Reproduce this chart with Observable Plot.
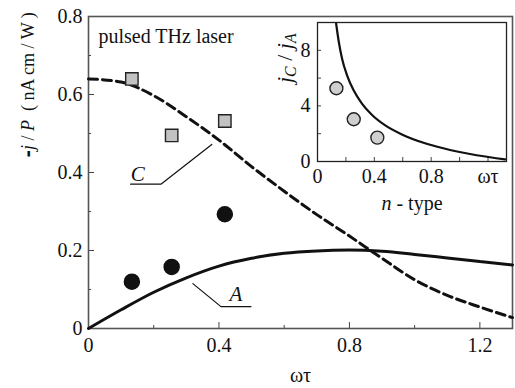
<!DOCTYPE html>
<html><head><meta charset="utf-8">
<script src="https://cdn.jsdelivr.net/npm/d3@7"></script>
<script src="https://cdn.jsdelivr.net/npm/@observablehq/plot@0.6"></script>
<style>
body{margin:0;background:#fff;font-family:'Liberation Serif';}
#wrap{position:relative;width:515px;height:388px;overflow:hidden;}
#wrap svg{position:absolute;}
</style></head><body><div id="wrap"></div>
<script>
// ---- main chart data ----
const curveX = [0, 0.1, 0.2, 0.3, 0.4, 0.5, 0.6, 0.7, 0.8, 0.9, 1.0, 1.1, 1.2, 1.3];
const curveA = [0, 0.048, 0.093, 0.13, 0.16, 0.18, 0.193, 0.199, 0.201, 0.198, 0.19, 0.181, 0.172, 0.163];
const curveC = [0.64, 0.632, 0.597, 0.543, 0.483, 0.415, 0.352, 0.292, 0.237, 0.18, 0.125, 0.085, 0.055, 0.028];
const pointX = [0.133, 0.255, 0.418];
const squaresC = [0.64, 0.495, 0.532];
const circlesA = [0.12, 0.158, 0.293];
const xMajor = [0, 0.4, 0.8, 1.2];
const xMinor = [0.2, 0.6, 1.0];
const yMajor = [0, 0.2, 0.4, 0.6, 0.8];
const yMinor = [0.1, 0.3, 0.5, 0.7];
// ---- inset data ----
const insetX = [0.131, 0.15, 0.173, 0.208, 0.255, 0.314, 0.384, 0.477, 0.594, 0.746, 0.885, 1.0, 1.12, 1.32];
const insetY = [9.93, 8.6, 7.4, 6.2, 5.1, 4.15, 3.35, 2.6, 1.95, 1.35, 0.95, 0.68, 0.45, 0.15];
const insetPointX = [0.133, 0.255, 0.421];
const insetPointY = [5.27, 3.04, 1.72];
const insetXMajor = [0, 0.4, 0.8, 1.2];
const insetXMinor = [0.2, 0.6, 1.0];
const insetYMajor = [0, 4, 8];
const insetYMinor = [2, 6];

const SERIF = "Liberation Serif";
const lineA = curveX.map((x, i) => ({x, y: curveA[i]}));
const lineC = curveX.map((x, i) => ({x, y: curveC[i]}));
const sq = pointX.map((x, i) => ({x, y: squaresC[i]}));
const ci = pointX.map((x, i) => ({x, y: circlesA[i]}));
const leaderC = [{x: 0.129, y: 0.37}, {x: 0.222, y: 0.37}, {x: 0.378, y: 0.472}];
const leaderA = [{x: 0.32, y: 0.115}, {x: 0.406, y: 0.056}, {x: 0.498, y: 0.056}];

const main = Plot.plot({
  width: 515, height: 388,
  marginLeft: 88, marginRight: 3, marginTop: 16, marginBottom: 60,
  x: {domain: [0, 1.3]},
  y: {domain: [0, 0.8]},
  style: {fontSize: "20px", color: "#111", background: "white"},
  marks: [
    Plot.axisX(xMajor, {tickSize: -6, tickPadding: 15, tickFormat: d => String(d), label: null, stroke: "#444"}),
    Plot.axisX(xMinor, {tickSize: -3, tickPadding: 15, tickFormat: () => "", label: null, stroke: "#444"}),
    Plot.axisY(yMajor, {tickSize: -6, tickPadding: 12, tickFormat: d => String(d), label: null, stroke: "#444"}),
    Plot.axisY(yMinor, {tickSize: -3, tickPadding: 12, tickFormat: () => "", label: null, stroke: "#444"}),
    Plot.frame({stroke: "#555", strokeWidth: 1.6}),
    Plot.line(lineC, {x: "x", y: "y", curve: "monotone-x", stroke: "#111", strokeWidth: 3, strokeDasharray: "9,5"}),
    Plot.line(lineA, {x: "x", y: "y", curve: "monotone-x", stroke: "#111", strokeWidth: 3}),
    Plot.line(leaderC, {x: "x", y: "y", stroke: "#111", strokeWidth: 1.2}),
    Plot.line(leaderA, {x: "x", y: "y", stroke: "#111", strokeWidth: 1.2}),
    Plot.dot(sq, {x: "x", y: "y", symbol: "square", r: 7, fill: "#c2c2c2", stroke: "#222", strokeWidth: 1.4}),
    Plot.dot(ci, {x: "x", y: "y", r: 7.5, fill: "#111", stroke: "#111"}),
    Plot.text([{x: 0.151, y: 0.395, t: "C"}], {x: "x", y: "y", text: "t", fontStyle: "italic", fontSize: 21}),
    Plot.text([{x: 0.452, y: 0.087, t: "A"}], {x: "x", y: "y", text: "t", fontStyle: "italic", fontSize: 21}),
    Plot.text(["pulsed THz laser"], {frameAnchor: "top-left", dx: 10, dy: 12, textAnchor: "start", lineAnchor: "top", fontSize: 20}),
    Plot.text(["ωτ"], {frameAnchor: "bottom", dy: 47, lineAnchor: "middle", fontSize: 20}),
    Plot.text(["YLABEL"], {frameAnchor: "left", dx: -60, dy: -15, rotate: -90, lineAnchor: "middle", fontSize: 18})
  ]
});

const inset = Plot.plot({
  width: 250, height: 200,
  marginLeft: 55, marginRight: 6, marginTop: 7, marginBottom: 54,
  x: {domain: [0, 1.33]},
  y: {domain: [0, 10]},
  style: {fontSize: "20px", color: "#111", background: "transparent", overflow: "visible"},
  marks: [
    Plot.axisX(insetXMajor, {tickSize: -4, tickPadding: 11, tickFormat: d => d === 1.2 ? "ωτ" : String(d), label: null, stroke: "#444"}),
    Plot.axisX(insetXMinor, {tickSize: -4, tickPadding: 11, tickFormat: () => "", label: null, stroke: "#444"}),
    Plot.axisY(insetYMajor, {tickSize: -4, tickPadding: 11, tickFormat: d => String(d), label: null, stroke: "#444"}),
    Plot.axisY(insetYMinor, {tickSize: -4, tickPadding: 11, tickFormat: () => "", label: null, stroke: "#444"}),
    Plot.frame({stroke: "#222", strokeWidth: 1.3}),
    Plot.line(insetX.map((x, i) => ({x, y: insetY[i]})), {x: "x", y: "y", curve: "monotone-x", stroke: "#111", strokeWidth: 2.2}),
    Plot.dot(insetPointX.map((x, i) => ({x, y: insetPointY[i]})), {x: "x", y: "y", r: 6.5, fill: "#cfcfcf", stroke: "#222", strokeWidth: 1.4}),
    Plot.text(["NTYPE"], {frameAnchor: "bottom", dy: 42, lineAnchor: "middle", fontSize: 20}),
    Plot.text(["JLABEL"], {frameAnchor: "left", dx: -33, dy: -9, rotate: -90, lineAnchor: "middle", fontSize: 22})
  ]
});

const wrap = document.getElementById("wrap");
main.style.left = "0px"; main.style.top = "0px";
inset.style.left = "262px"; inset.style.top = "15px";
wrap.appendChild(main);
wrap.appendChild(inset);

function rich(svg, key, parts) {
  d3.select(svg).selectAll("text").filter(function() { return this.textContent === key; }).each(function() {
    const t = d3.select(this);
    t.text(null);
    for (const p of parts) {
      const s = t.append("tspan").text(p.t);
      if (p.i) s.attr("font-style", "italic");
      if (p.b) s.attr("font-weight", "bold").attr("data-sans", "1");
      if (p.sub) s.attr("font-size", "0.72em").attr("baseline-shift", "-25%");
    }
  });
}
rich(main, "YLABEL", [{t: "-", b: true}, {t: "j", i: true}, {t: " / "}, {t: "P", i: true}, {t: "  ( nA cm / W )"}]);
rich(inset, "NTYPE", [{t: "n", i: true}, {t: " - type"}]);
rich(inset, "JLABEL", [{t: "j", i: true}, {t: "C", i: true, sub: true}, {t: " / "}, {t: "j", i: true}, {t: "A", i: true, sub: true}]);

// prefer a serif face for all text
for (const svg of [main, inset]) {
  svg.setAttribute("font-family", SERIF);
  svg.style.fontFamily = SERIF;
  d3.select(svg).selectAll("text").attr("font-family", SERIF).style("font-family", SERIF).style("white-space", "pre");
  d3.select(svg).selectAll("tspan[data-sans]").attr("font-family", "DejaVu Sans").style("font-family", "DejaVu Sans");
}
</script>
</body></html>
